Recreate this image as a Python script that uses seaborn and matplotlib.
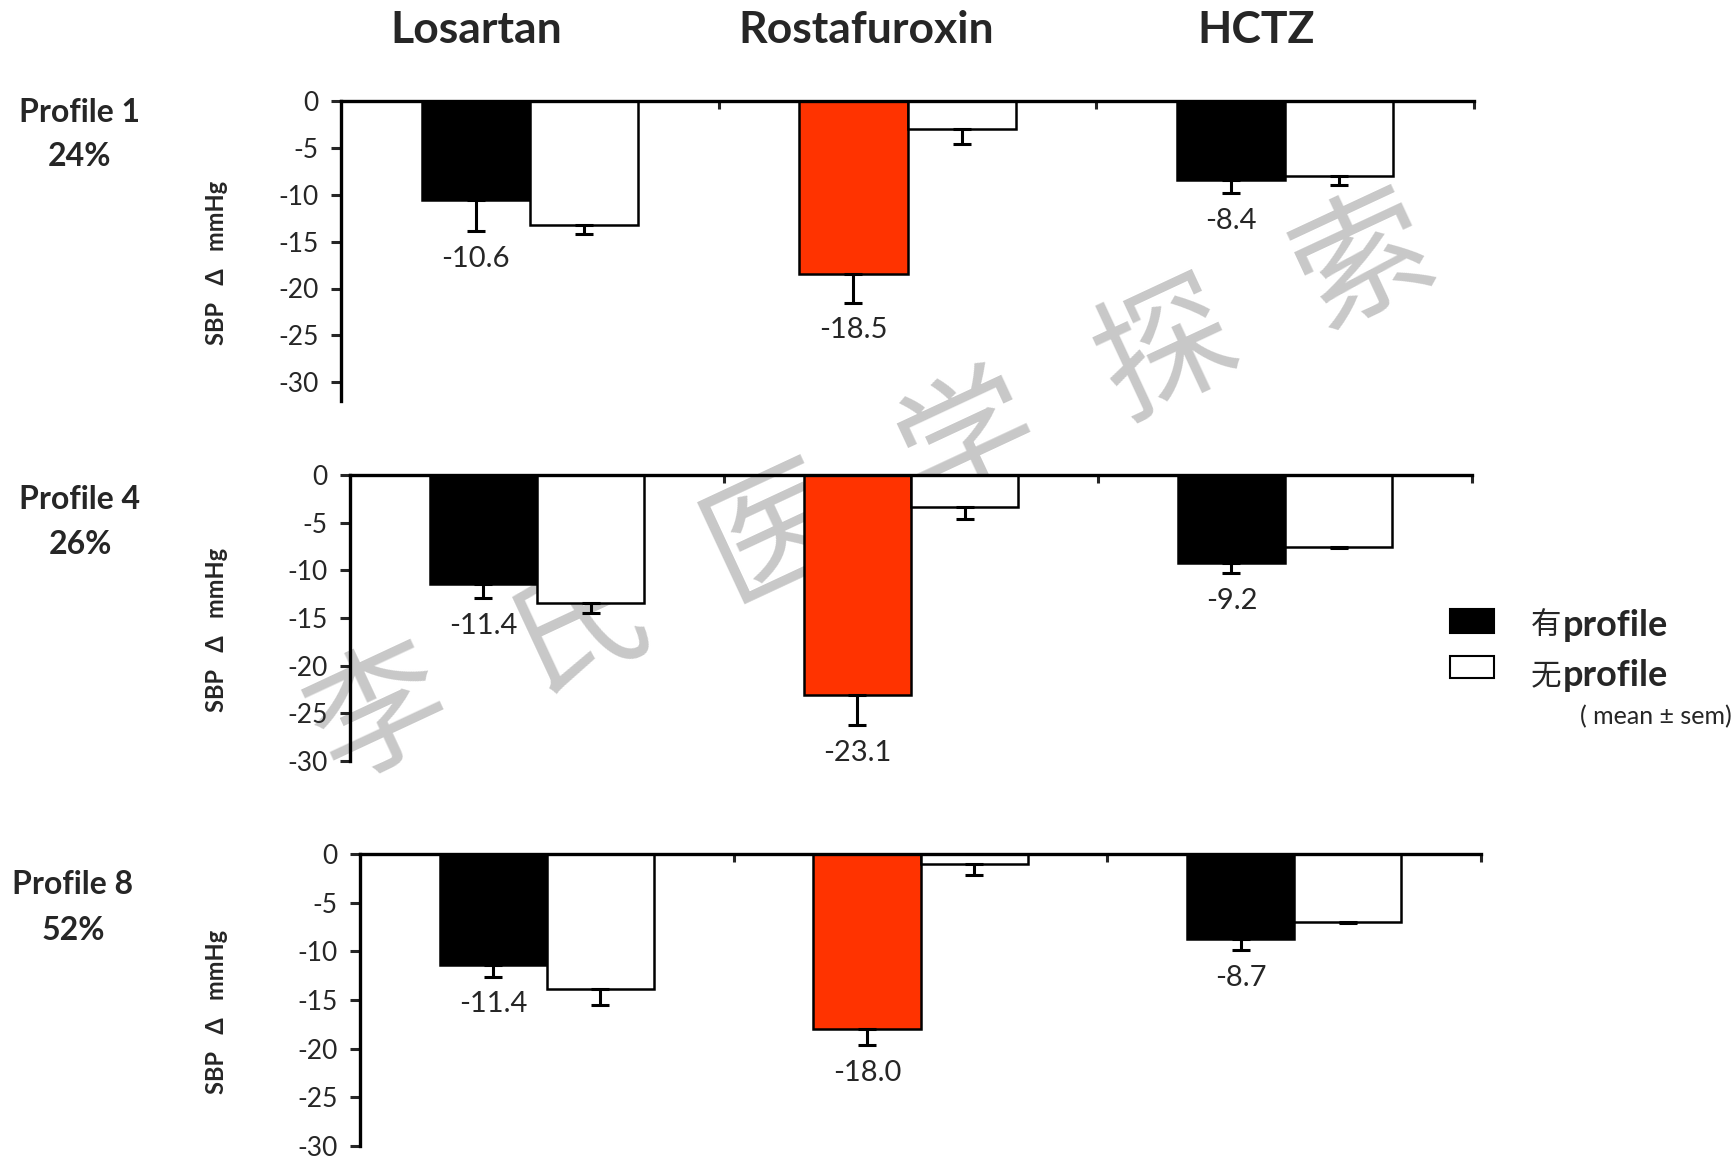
import numpy as np
import pandas as pd
import matplotlib
matplotlib.use("Agg")
import matplotlib.pyplot as plt
import seaborn as sns

# ---- data -------------------------------------------------------------
drugs = ["Losartan", "Rostafuroxin", "HCTZ"]
groups = ["有profile", "无profile"]
group_marks = ["有", "无"]

profile_names = ["Profile 1", "Profile 4", "Profile 8"]
profile_share = ["24%", "26%", "52%"]

# mean SBP change (mmHg), carriers / non-carriers of each profile
p1_with = [-10.6, -18.5, -8.4]
p1_without = [-13.2, -3.0, -8.0]
p1_with_sem = [3.3, 3.0, 1.4]
p1_without_sem = [1.0, 1.6, 1.0]

p4_with = [-11.4, -23.1, -9.2]
p4_without = [-13.4, -3.4, -7.6]
p4_with_sem = [1.5, 3.1, 1.1]
p4_without_sem = [1.1, 1.2, 0.1]

p8_with = [-11.4, -18.0, -8.7]
p8_without = [-13.9, -1.0, -7.0]
p8_with_sem = [1.2, 1.6, 1.2]
p8_without_sem = [1.6, 1.2, 0.1]

panels = [
    (p1_with, p1_without, p1_with_sem, p1_without_sem),
    (p4_with, p4_without, p4_with_sem, p4_without_sem),
    (p8_with, p8_without, p8_with_sem, p8_without_sem),
]

# ---- style --------------------------------------------------------------
sns.set_style("white")
plt.rcParams["font.family"] = ["Lato", "Noto Sans CJK SC", "DejaVu Sans"]
plt.rcParams["axes.unicode_minus"] = False

RED = "#FF3300"
W, H = 1735, 1162
fig = plt.figure(figsize=(W / 100, H / 100), dpi=100)


def px_box(left, right, top, bottom):
    return [left / W, 1 - bottom / H, (right - left) / W, (bottom - top) / H]


# axes boxes (left, right, y of 0, y of lower limit) in pixels
boxes = [
    (341, 1474, 101, 401),
    (350, 1472, 475, 761),
    (360, 1481, 854, 1146),
]
ylims = [-32, -30, -30]

for k, ((w_vals, wo_vals, w_sem, wo_sem), box, ylo) in enumerate(zip(panels, boxes, ylims)):
    ax = fig.add_axes(px_box(*box))
    ax.patch.set_alpha(0)
    df = pd.DataFrame({
        "drug": drugs * 2,
        "group": [groups[0]] * 3 + [groups[1]] * 3,
        "value": list(w_vals) + list(wo_vals),
    })
    sns.barplot(data=df, x="drug", y="value", hue="group", order=drugs,
                hue_order=groups, palette={groups[0]: "black", groups[1]: "white"},
                edgecolor="black", linewidth=1.8, width=0.573, errorbar=None,
                legend=False, ax=ax, zorder=2)
    # the Rostafuroxin carrier bar is highlighted
    ax.containers[0][1].set_facecolor(RED)

    for cont, vals, sems, lab in zip(ax.containers, [w_vals, wo_vals],
                                     [w_sem, wo_sem], [True, False]):
        xs = [b.get_x() + b.get_width() / 2 for b in cont]
        ax.errorbar(xs, vals, yerr=[sems, np.zeros(len(sems))], fmt="none",
                    ecolor="black", elinewidth=2.2, capsize=6.5, capthick=2.2,
                    zorder=3)
        if lab:
            for x, v, s in zip(xs, vals, sems):
                ax.annotate(f"{v:.1f}", (x, v - s), xytext=(0, -20),
                            textcoords="offset points", ha="center",
                            va="center", fontsize=21)

    ax.set_xlim(-0.5, 2.5)
    ax.set_ylim(ylo, 0)
    ax.set_yticks(np.arange(-30, 1, 5))
    ax.set_yticklabels([str(v) for v in np.arange(-30, 1, 5)], fontsize=19)
    ax.xaxis.tick_top()
    ax.set_xticks([0.5, 1.5, 2.5])
    ax.set_xticklabels([])
    ax.set_xlabel("")
    ax.set_ylabel("")
    ax.tick_params(axis="x", direction="in", length=6, width=2.2, top=True, bottom=False)
    ax.tick_params(axis="y", direction="out", length=7, width=2.2, left=True, pad=9)
    for side in ["bottom", "right"]:
        ax.spines[side].set_visible(False)
    for side in ["top", "left"]:
        ax.spines[side].set_linewidth(2.4)
        ax.spines[side].set_color("black")

    # y-axis caption
    ymid = 1 - ((box[2] + box[3]) / 2) / H
    fig.text(216 / W, ymid - 0.01, "SBP   Δ   mmHg", rotation=90, ha="center",
             va="center", fontsize=17, fontweight="bold")

# profile names and shares
prof_pos = [(79, 112, 156), (80, 499, 544), (73, 885, 931)]
for name, share, (x, y1, y2) in zip(profile_names, profile_share, prof_pos):
    fig.text(x / W, 1 - y1 / H, name, ha="center", va="center",
             fontsize=23, fontweight="bold")
    fig.text(x / W, 1 - y2 / H, share, ha="center", va="center",
             fontsize=23, fontweight="bold")

# drug titles
for name, x in zip(drugs, [476, 866, 1256]):
    fig.text(x / W, 1 - 30 / H, name, ha="center", va="center",
             fontsize=32, fontweight="bold")

# legend
lax = fig.add_axes([0, 0, 1, 1], zorder=5)
lax.set_xlim(0, W)
lax.set_ylim(H, 0)
lax.axis("off")
lax.add_patch(plt.Rectangle((1450, 609), 44, 24, facecolor="black",
                            edgecolor="black", linewidth=1.5))
lax.add_patch(plt.Rectangle((1450, 656), 44, 22, facecolor="white",
                            edgecolor="black", linewidth=1.5))
for mark, y in zip(group_marks, [626, 676]):
    lax.text(1531, y, mark, ha="left", va="center", fontsize=22,
             family=["Noto Sans CJK SC"])
    lax.text(1563, y, "profile", ha="left", va="center", fontsize=26,
             fontweight="bold")
lax.text(1732, 717, "( mean ± sem)", ha="right", va="center", fontsize=18)

# watermark, laid along a rising diagonal behind the plots
wm_chars = "李氏医学探索"
for i, ch in enumerate(wm_chars):
    cx = 380 + 197 * i
    cy = 717 - 91 * i
    fig.text(cx / W, 1 - cy / H, ch, ha="center", va="center", rotation=25,
             fontsize=98, color="#C8C8C8", zorder=-1, fontweight="light",
             family=["Noto Sans CJK SC"])

fig.savefig("out.png", dpi=100)
